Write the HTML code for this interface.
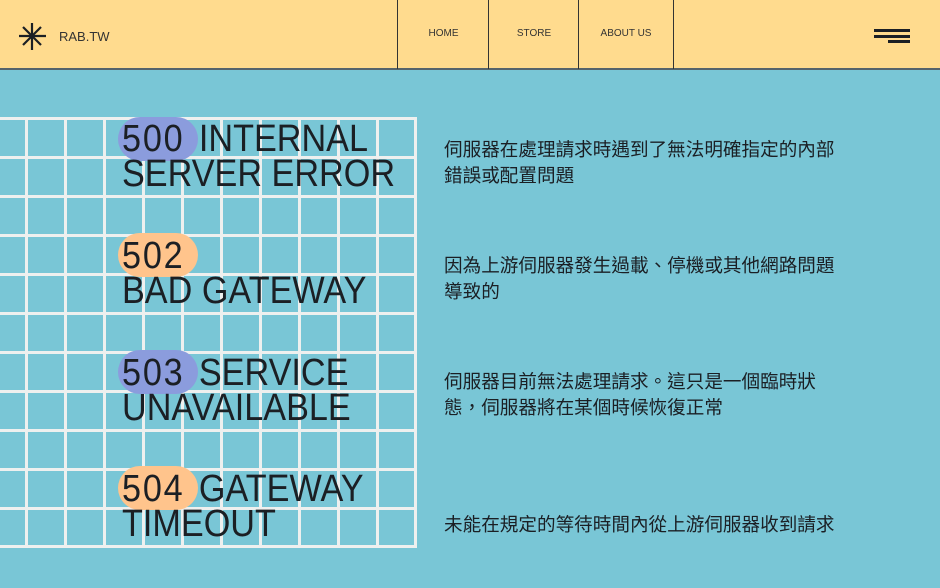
<!DOCTYPE html>
<html><head><meta charset="utf-8"><style>
*{margin:0;padding:0;box-sizing:border-box}
body{width:940px;height:588px;overflow:hidden;background:#79c6d6;font-family:"Liberation Sans","Noto Sans CJK TC",sans-serif;position:relative;color:#1b1f24}
.hdr{position:absolute;left:0;top:0;width:940px;height:70px;background:#ffdb8e;border-bottom:2px solid #55636b}
.nav{position:absolute;top:0;height:69px;border-left:1.5px solid #333;font-size:10px;color:#333;text-align:center;padding-top:28px}
.grid{position:absolute;left:-14px;top:117px;width:431px;height:431px;
background-image:linear-gradient(90deg,#eef0ef 3px,transparent 3px),linear-gradient(#eef0ef 3px,transparent 3px);
background-size:39px 39px;border-right:3px solid #eef0ef;border-bottom:3px solid #eef0ef}
.h{position:absolute;left:122px;font-size:38px;line-height:35px;white-space:nowrap;transform:scaleX(0.9);transform-origin:0 0}
.h b{font-weight:normal;letter-spacing:2px;margin-right:16px}
.pill{position:absolute;left:118px;width:80px;height:44px;border-radius:22px}
.t{position:absolute;left:444px;font-size:18.6px;line-height:26px;width:395px}
</style></head><body>
<div class="hdr">
<svg style="position:absolute;left:19px;top:23px" width="28" height="27" viewBox="0 0 28 27"><g stroke="#1b1f24" stroke-width="2.2"><line x1="13" y1="0" x2="13" y2="27"/><line x1="0" y1="13" x2="27" y2="13"/><line x1="4" y1="4" x2="22" y2="22"/><line x1="22" y1="4" x2="4" y2="22"/></g></svg>
<div style="position:absolute;left:59px;top:29px;font-size:13px;color:#333">RAB.TW</div>
<div class="nav" style="left:397px;width:92px">HOME</div>
<div class="nav" style="left:488px;width:91px">STORE</div>
<div class="nav" style="left:578px;width:96px;border-right:1.5px solid #333">ABOUT US</div>
<div style="position:absolute;left:874px;top:29px;width:36px;height:3px;background:#1b1f24"></div>
<div style="position:absolute;left:874px;top:35px;width:36px;height:3px;background:#1b1f24"></div>
<div style="position:absolute;left:888px;top:40px;width:22px;height:3px;background:#1b1f24"></div>
</div>
<div class="grid"></div>
<div class="pill" style="top:117px;background:#8b9cdd"></div>
<div class="pill" style="top:233px;background:#ffc48c"></div>
<div class="pill" style="top:350px;background:#8b9cdd"></div>
<div class="pill" style="top:466px;background:#ffc48c"></div>
<div class="h" style="top:122px"><b>500</b>INTERNAL<br>SERVER ERROR</div>
<div class="h" style="top:239px"><b>502</b><br>BAD GATEWAY</div>
<div class="h" style="top:356px"><b>503</b>SERVICE<br>UNAVAILABLE</div>
<div class="h" style="top:472px"><b>504</b>GATEWAY<br>TIMEOUT</div>
<div class="t" style="top:137px">伺服器在處理請求時遇到了無法明確指定的內部錯誤或配置問題</div>
<div class="t" style="top:253px">因為上游伺服器發生過載、停機或其他網路問題導致的</div>
<div class="t" style="top:369px">伺服器目前無法處理請求。這只是一個臨時狀態，伺服器將在某個時候恢復正常</div>
<div class="t" style="top:512px">未能在規定的等待時間內從上游伺服器收到請求</div>
</body></html>
